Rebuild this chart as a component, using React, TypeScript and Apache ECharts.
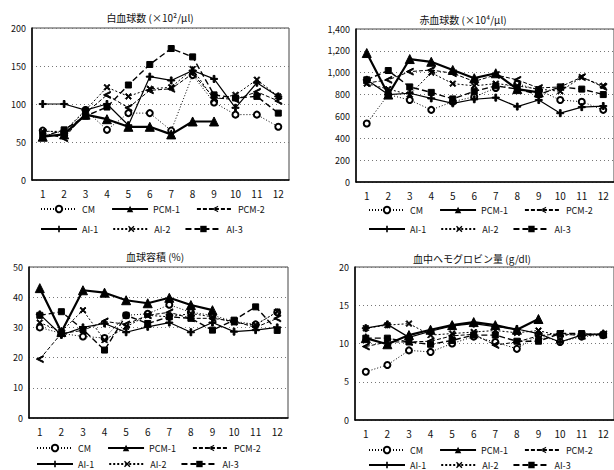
import React, { useEffect, useRef } from "react";
import * as echarts from "echarts";

const categories = ["1", "2", "3", "4", "5", "6", "7", "8", "9", "10", "11", "12"];
const seriesNames = ["CM", "PCM-1", "PCM-2", "AI-1", "AI-2", "AI-3"];

// 白血球数
const wbcCM = [65, 62, 92, 66, 88, 88, 65, 138, 102, 86, 86, 70];
const wbcPCM1 = [57, 60, 86, 80, 70, 70, 60, 77, 77];
const wbcPCM2 = [62, 55, 88, 112, 95, 118, 120, 140, 108, 106, 116, 104];
const wbcAI1 = [100, 100, 92, 100, 72, 136, 131, 144, 133, 95, 128, 110];
const wbcAI2 = [64, 64, 92, 122, 110, 120, 122, 146, 106, 112, 132, 110];
const wbcAI3 = [57, 66, 84, 96, 125, 152, 173, 162, 112, 108, 110, 88];

// 赤血球数
const rbcCM = [536, 800, 750, 660, 735, 780, 860, 900, 840, 750, 735, 660];
const rbcPCM1 = [1180, 800, 1125, 1100, 1025, 950, 995, 850, 820];
const rbcPCM2 = [905, 935, 1010, 1025, 995, 920, 980, 935, 860, 870, 960, 870];
const rbcAI1 = [935, 800, 812, 765, 720, 757, 772, 690, 750, 630, 685, 695];
const rbcAI2 = [900, 850, 800, 1000, 900, 880, 900, 880, 850, 830, 960, 880];
const rbcAI3 = [935, 1020, 870, 820, 760, 830, 880, 850, 800, 870, 850, 800];

// 血球容積
const hctCM = [30, 28, 27, 26.5, 34, 34.5, 37.5, 35, 34, 32, 31, 35];
const hctPCM1 = [43, 28.5, 42.3, 41.5, 39, 38, 39.8, 37.4, 35.7];
const hctPCM2 = [19.5, 28, 29, 32, 31, 34, 35, 33, 33, 32, 30, 33];
const hctAI1 = [34.3, 27.5, 30, 31.3, 28.4, 30.2, 31.6, 28.4, 31.6, 28.6, 29.1, 30];
const hctAI2 = [31.6, 28.6, 35.7, 25.8, 30.2, 34, 33.5, 34.6, 33.5, 31.6, 30.8, 35.2];
const hctAI3 = [34, 35.2, 29.3, 22.5, 34, 31.3, 33.5, 33, 29.1, 32.4, 36.8, 29];

// 血中ヘモグロビン量
const hbCM = [6.3, 7.2, 9.1, 8.9, 10, 10.9, 10.2, 9.3, 11.1, 10.2, 10.9, 11.1];
const hbPCM1 = [10.7, 9.9, 11.1, 11.8, 12.4, 12.8, 12.4, 11.8, 13.2];
const hbPCM2 = [9.6, 10.2, 10.2, 10.3, 11, 11.2, 9.8, 10.2, 11, 11.3, 11, 11.2];
const hbAI1 = [12, 12.5, 10.8, 11.6, 12.3, 12.6, 12.2, 11.9, 11.3, 10.2, 11.1, 11.3];
const hbAI2 = [12, 12.4, 12.6, 11.1, 11.3, 11.5, 11.7, 11.4, 11.7, 11, 11.3, 11.2];
const hbAI3 = [10.7, 10.7, 10.2, 9.9, 10.4, 11.1, 11.1, 10.3, 10.3, 11.3, 11.3, 11.1];

const panelTitles = ["白血球数 (×10²/μl)", "赤血球数 (×10⁴/μl)", "血球容積 (%)", "血中ヘモグロビン量 (g/dl)"];
const yMax = [200, 1400, 50, 20];
const yStep = [50, 200, 10, 5];

const panelData = [
  [wbcCM, wbcPCM1, wbcPCM2, wbcAI1, wbcAI2, wbcAI3],
  [rbcCM, rbcPCM1, rbcPCM2, rbcAI1, rbcAI2, rbcAI3],
  [hctCM, hctPCM1, hctPCM2, hctAI1, hctAI2, hctAI3],
  [hbCM, hbPCM1, hbPCM2, hbAI1, hbAI2, hbAI3],
];

const SYM_LT = "path://M10,0 L0,5 L10,10 L10,8 L3.5,5 L10,2 Z";
const SYM_X =
  "path://M0,1.5 L1.5,0 L5,3.5 L8.5,0 L10,1.5 L6.5,5 L10,8.5 L8.5,10 L5,6.5 L1.5,10 L0,8.5 L3.5,5 Z";
const SYM_BAR = "path://M0,4.2 L3,4.2 L3,0 L5,0 L5,4.2 L8,4.2 L8,5.8 L5,5.8 L5,10 L3,10 L3,5.8 L0,5.8 Z";

const styles: any[] = [
  { symbol: "emptyCircle", symbolSize: 6, lineStyle: { type: [1, 2], width: 1 } },
  { symbol: "triangle", symbolSize: 9, lineStyle: { type: "solid", width: 2.2 } },
  { symbol: SYM_LT, symbolSize: 7, lineStyle: { type: [4, 2], width: 1 } },
  { symbol: SYM_BAR, symbolSize: 7, lineStyle: { type: "solid", width: 1.2 } },
  { symbol: SYM_X, symbolSize: 6, lineStyle: { type: [2, 2], width: 1 } },
  { symbol: "rect", symbolSize: 6, lineStyle: { type: [6, 3], width: 1.4 } },
];

const grids = [
  { left: 32, top: 28, width: 257, height: 152 },
  { left: 356, top: 29, width: 262, height: 153 },
  { left: 29, top: 267, width: 259, height: 151 },
  { left: 355, top: 267, width: 262, height: 153 },
];

const titlePos = [
  [150, 17],
  [463, 19],
  [155, 256],
  [472, 258],
];

const legendRows = [
  [40, 204, 40, 224],
  [368, 205, 368, 224],
  [36, 443, 36, 459],
  [368, 445, 368, 460],
];

export default function App() {
  const ref = useRef<HTMLDivElement>(null);
  useEffect(() => {
    if (!ref.current) return;
    const chart = echarts.init(ref.current, null, { renderer: "svg" });
    const font = "'Noto Sans CJK JP', 'DejaVu Sans', sans-serif";
    const series: any[] = [];
    panelData.forEach((arrs, p) => {
      arrs.forEach((d, i) => {
        series.push({
          type: "line",
          name: seriesNames[i],
          xAxisIndex: p,
          yAxisIndex: p,
          data: d,
          symbol: styles[i].symbol,
          symbolSize: styles[i].symbolSize,
          lineStyle: { color: "#000", ...styles[i].lineStyle },
          itemStyle: { color: "#000", borderColor: "#000" },
          z: 3 + i,
        });
      });
    });
    const legends: any[] = [];
    legendRows.forEach((r) => {
      legends.push({
        data: ["CM", "PCM-1", "PCM-2"],
        left: r[0],
        top: r[1],
        padding: 0,
        itemWidth: 36,
        itemHeight: 8,
        itemGap: 16,
        textStyle: { fontSize: 9, color: "#111", fontFamily: font, lineHeight: 10 },
      });
      legends.push({
        data: ["AI-1", "AI-2", "AI-3"],
        left: r[2],
        top: r[3],
        padding: 0,
        itemWidth: 36,
        itemHeight: 8,
        itemGap: 14,
        textStyle: { fontSize: 9, color: "#111", fontFamily: font, lineHeight: 10 },
      });
    });
    const option: any = {
      animation: false,
      backgroundColor: "#fff",
      textStyle: { fontFamily: font },
      grid: grids.map((g) => ({ ...g, show: true, borderColor: "#444", borderWidth: 1 })),
      xAxis: grids.map((_, p) => ({
        type: "category",
        gridIndex: p,
        data: categories,
        boundaryGap: true,
        axisLine: { lineStyle: { color: "#000", width: 1.5 } },
        axisTick: { show: false },
        axisLabel: { fontSize: 10, color: "#111", margin: 8 },
      })),
      yAxis: grids.map((_, p) => ({
        type: "value",
        gridIndex: p,
        min: 0,
        max: yMax[p],
        interval: yStep[p],
        axisLine: { show: true, lineStyle: { color: "#000", width: 1.5 } },
        axisTick: { show: false },
        axisLabel: {
          fontSize: 9,
          color: "#111",
          margin: 6,
          formatter: (v: number) => v.toLocaleString("en-US"),
        },
        splitLine: { show: true, lineStyle: { type: [1, 3], color: "#777", width: 1 } },
      })),
      legend: legends,
      graphic: panelTitles.map((t, p) => ({
        type: "text",
        x: titlePos[p][0],
        y: titlePos[p][1],
        style: {
          text: t,
          fontSize: 10,
          fill: "#111",
          fontFamily: font,
          textAlign: "center",
          textVerticalAlign: "middle",
        },
      })),
      series,
    };
    chart.setOption(option);
    return () => chart.dispose();
  }, []);
  return (
    <div
      ref={ref}
      style={{ width: 614, height: 470, position: "absolute", left: 0, top: 0, background: "#fff" }}
    />
  );
}
